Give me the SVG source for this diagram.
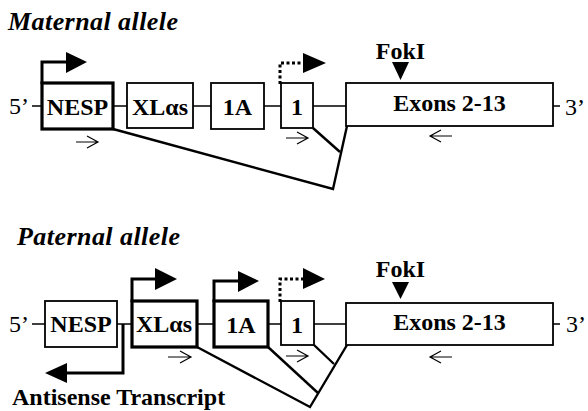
<svg xmlns="http://www.w3.org/2000/svg" width="588" height="411" viewBox="0 0 588 411">
<defs>
<style>
text{font-family:'Liberation Serif','Times New Roman',Times,serif;fill:#000}
.t{font-weight:bold;font-size:24px}
.ti{font-weight:bold;font-style:italic;font-size:26px}
.r{font-size:24px}
.m{text-anchor:middle}
.thick{fill:#fff;stroke:#000;stroke-width:3.2}
.thin{fill:#fff;stroke:#000;stroke-width:1.8}
.bb{stroke:#000;stroke-width:1.6;fill:none}
.sp{stroke:#000;stroke-width:2.4;fill:none;stroke-linejoin:miter}
.pr{stroke:#000;stroke-width:3;fill:none}
.dot{stroke:#000;stroke-width:3;fill:none;stroke-dasharray:3 2.5}
.sm{stroke:#000;stroke-width:1.2;fill:none}
</style>
</defs>
<rect width="588" height="411" fill="#fff"/>

<g id="titles">
<text class="ti" x="8" y="30" textLength="170" lengthAdjust="spacing">Maternal allele</text>
<text class="ti" x="17" y="245" textLength="163" lengthAdjust="spacing">Paternal allele</text>
</g>

<g id="connectors">
  <path class="bb" d="M32,106H42 M113,106H127 M193,106H211 M264,106H281 M313,106H346 M553,106H560"/>
  <path class="bb" d="M32,324H45 M117,324H132 M197,324H214 M268,324H281 M314,324H346 M553,324H560"/>
  <path class="sp" d="M113,129L333,189L347,126"/>
  <path class="sp" d="M313,128L340,152"/>
  <path class="sp" d="M197,347L310,407L347,345"/>
  <path class="sp" d="M268,347L318,393"/>
  <path class="sp" d="M314,345L334,364"/>
  <path class="pr" d="M42,84V62H67"/>
  <polygon points="66,52 87,62 66,73"/>
  <path class="dot" d="M280,84V63H303"/>
  <polygon points="303,53 326,63 303,73"/>
  <path class="pr" d="M132,302V279H155"/>
  <polygon points="155,268 177,279 155,290"/>
  <path class="pr" d="M214,302V281H238"/>
  <polygon points="238,271 259,281 238,292"/>
  <path class="dot" d="M280,302V279H303"/>
  <polygon points="303,268 325,279 303,289"/>
  <path class="pr" d="M123,324V373H66"/>
  <polygon points="67,363 45,373 67,383"/>
  <polygon points="392,62 409,62 400.5,80"/>
  <polygon points="392,282 409,282 400.5,299"/>
  <path class="sm" d="M76,142H98M87,136L98,142L87,148"/>
  <path class="sm" d="M286,138H308M297,132L308,138L297,144"/>
  <path class="sm" d="M452,136H430M441,130L430,136L441,142"/>
  <path class="sm" d="M168,357H191M180,351L191,357L180,363"/>
  <path class="sm" d="M286,356H308M297,350L308,356L297,362"/>
  <path class="sm" d="M452,357H430M441,351L430,357L441,363"/>
</g>

<g id="m-5"><text class="r" x="9" y="114">5’</text></g>
<g id="m-nesp">
  <rect class="thick" x="42" y="83" width="71" height="46"/>
  <text class="t m" x="77.5" y="115">NESP</text>
</g>
<g id="m-xlas">
  <rect class="thin" x="127" y="83" width="66" height="45"/>
  <text class="t m" x="160" y="115">XLαs</text>
</g>
<g id="m-1a">
  <rect class="thin" x="211" y="83" width="53" height="46"/>
  <text class="t m" x="237.5" y="115">1A</text>
</g>
<g id="m-1">
  <rect class="thin" x="281" y="83" width="32" height="45"/>
  <text class="t m" x="297" y="115">1</text>
</g>
<g id="m-exons">
  <rect class="thin" x="346" y="83" width="207" height="43"/>
  <text class="t m" x="449.5" y="111">Exons 2-13</text>
</g>
<g id="m-foki"><text class="t m" x="400.5" y="59">FokI</text></g>
<g id="m-3"><text class="r" x="565" y="115">3’</text></g>

<g id="p-5"><text class="r" x="9" y="332">5’</text></g>
<g id="p-nesp">
  <rect class="thin" x="45" y="301" width="72" height="46"/>
  <text class="t m" x="81" y="332">NESP</text>
</g>
<g id="p-xlas">
  <rect class="thick" x="132" y="301" width="65" height="46"/>
  <text class="t m" x="164" y="332">XLαs</text>
</g>
<g id="p-1a">
  <rect class="thick" x="214" y="301" width="54" height="46"/>
  <text class="t m" x="241" y="333">1A</text>
</g>
<g id="p-1">
  <rect class="thin" x="281" y="301" width="33" height="44"/>
  <text class="t m" x="297" y="333">1</text>
</g>
<g id="p-exons">
  <rect class="thin" x="346" y="303" width="207" height="42"/>
  <text class="t m" x="449.5" y="330">Exons 2-13</text>
</g>
<g id="p-foki"><text class="t m" x="400.5" y="277">FokI</text></g>
<g id="p-3"><text class="r" x="566" y="332">3’</text></g>
<g id="p-antisense"><text class="t" x="12" y="405">Antisense Transcript</text></g>
</svg>
